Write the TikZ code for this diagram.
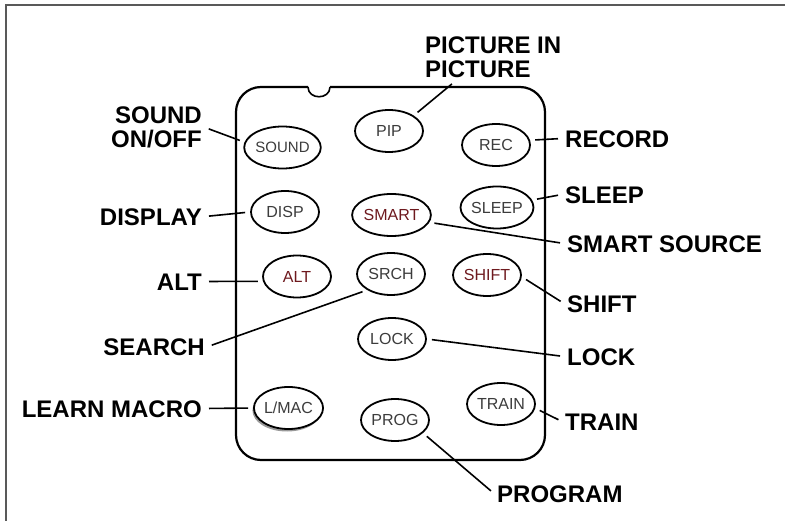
\documentclass[tikz,border=0pt]{standalone}
\usepackage{fontspec}
\setmainfont{Liberation Sans}
\usetikzlibrary{shapes.geometric, shadows}

\definecolor{keygray}{RGB}{60,60,60}
\definecolor{keyred}{RGB}{110,25,30}

\begin{document}
\begin{tikzpicture}[x=1pt, y=-1pt]
  \tikzstyle{key}=[ellipse, draw, fill=white, line width=1.8pt, minimum width=68pt, minimum height=42pt, inner sep=0pt, text=keygray, font=\fontsize{16}{16}\selectfont]
  \tikzstyle{redkey}=[key, text=keyred]
  \tikzstyle{lbl}=[inner sep=3pt, text height=17.2pt, text depth=0pt, font=\fontsize{24}{24}\selectfont\bfseries]
  \tikzstyle{lbltwo}=[inner sep=3pt, font=\fontsize{24}{24}\selectfont\bfseries]
  \tikzstyle{lead}=[line width=1.6pt, shorten <=5pt, shorten >=4pt]
  \useasboundingbox (0,0) rectangle (785,521);

  % page frame
  \draw[line width=2pt, gray!70!black] (6,521) -- (6,5.5) -- (785,5.5);

  % remote outline with notch
  \draw[line width=2.2pt, rounded corners=25pt] (308,87) -- (236,87) -- (236,460) -- (545,460) -- (545,87) -- (330,87);
  \draw[line width=1.6pt] (330,87) .. controls (330,100) and (308,100) .. (308,87);

  % keys
  \node (sound) at (282.5,147.5) [key, font=\fontsize{15}{15}\selectfont] {SOUND};
  \node (pip) at (389,131) [key] {PIP};
  \node (rec) at (496,145) [key] {REC};
  \node (disp) at (285,212) [key] {DISP};
  \node (smart) at (391.5,215) [redkey] {SMART};
  \node (sleep) at (497,207.5) [key] {SLEEP};
  \node (alt) at (297,276.5) [redkey] {ALT};
  \node (srch) at (391,274) [key] {SRCH};
  \node (shift) at (487,275) [redkey] {SHIFT};
  \node (lock) at (392,339) [key] {LOCK};
  \node (lmac) at (288.5,408) [key, drop shadow={shadow xshift=-1.5pt, shadow yshift=-2.5pt, fill=black!80}] {L/MAC};
  \node (prog) at (395,420) [key] {PROG};
  \node (train) at (501,404) [key] {TRAIN};

  % labels
  \node (pipl) at (422,34) [lbltwo, anchor=north west, align=left] {PICTURE IN\\PICTURE};
  \node (soundl) at (205,127.5) [lbltwo, anchor=east, align=right] {SOUND\\ON/OFF};
  \node (recl) at (562,138.5) [lbl, anchor=west] {RECORD};
  \node (sleepl) at (562,194.5) [lbl, anchor=west] {SLEEP};
  \node (displ) at (205,216.5) [lbl, anchor=east] {DISPLAY};
  \node (smartl) at (564,243.5) [lbl, anchor=west] {SMART SOURCE};
  \node (altl) at (205,281.5) [lbl, anchor=east] {ALT};
  \node (shiftl) at (564,303.5) [lbl, anchor=west] {SHIFT};
  \node (searchl) at (208,346.5) [lbl, anchor=east] {SEARCH};
  \node (lockl) at (564,356.5) [lbl, anchor=west] {LOCK};
  \node (lmacl) at (205,408.5) [lbl, anchor=east] {LEARN MACRO};
  \node (trainl) at (562,421.5) [lbl, anchor=west] {TRAIN};
  \node (progl) at (494,493.5) [lbl, anchor=west] {PROGRAM};

  % leader lines
  \draw[lead] (sound.172) -- (soundl.east);
  \draw[lead] (pip.32) -- ([xshift=33pt]pipl.south west);
  \draw[lead] (rec.8) -- (recl.west);
  \draw[lead] (sleep.12) -- (sleepl.west);
  \draw[lead] (disp.west) -- (displ.east);
  \draw[lead] (smart.-11) -- (smartl.west);
  \draw[lead] (alt.188) -- (altl.east);
  \draw[lead] (shift.-3) -- (shiftl.west);
  \draw[lead] (srch.214) -- (searchl.east);
  \draw[lead] (lock.east) -- (lockl.west);
  \draw[lead] (lmac.west) -- (lmacl.east);
  \draw[lead] (train.-7) -- (trainl.west);
  \draw[lead] (prog.-25) -- (progl.west);
\end{tikzpicture}
\end{document}
